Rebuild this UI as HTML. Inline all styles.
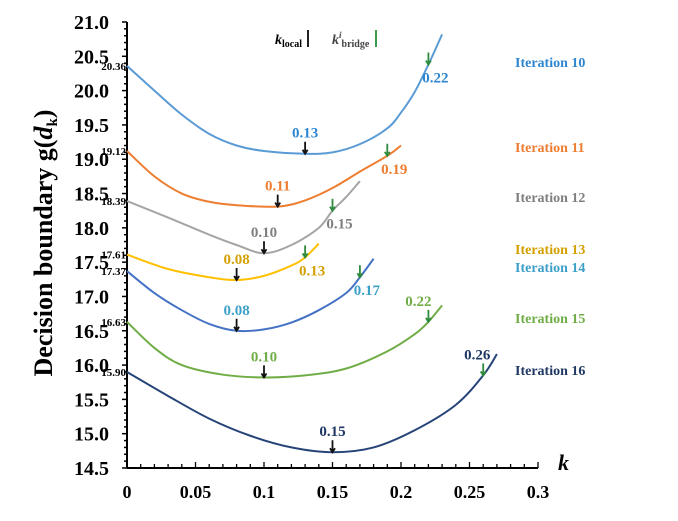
<!DOCTYPE html>
<html><head><meta charset="utf-8"><style>
body{margin:0;background:#fff;}
svg{display:block;font-family:"Liberation Serif",serif;}
</style></head><body>
<svg id="chart" width="678" height="521" viewBox="0 0 678 521">
<g id="axes"></g>
<g id="series"></g>
<text x="275" y="44" font-size="14" font-weight="bold" font-style="italic">k<tspan font-size="10" font-style="normal" dy="3">local</tspan></text>
<rect x="307" y="30" width="2" height="17" fill="#222"/>
<text x="332" y="44" font-size="14" font-weight="bold" font-style="italic" fill="#444">k<tspan font-size="9" dy="-6">i</tspan><tspan font-size="10" font-style="normal" dy="9">bridge</tspan></text>
<rect x="375" y="30" width="2" height="17" fill="#3a9a4a"/>
<text transform="translate(52,243) rotate(-90)" text-anchor="middle" font-size="26" font-weight="bold">Decision boundary g(<tspan font-style="italic">d</tspan><tspan font-size="15" dy="5">k</tspan><tspan dy="-5">)</tspan></text>
<text x="558" y="470" font-size="22" font-weight="bold" font-style="italic">k</text>
</svg>
<script>
const xTicks=[0,0.05,0.1,0.15,0.2,0.25,0.3];
const xTickLabels=["0","0.05","0.1","0.15","0.2","0.25","0.3"];
const yTicks=[14.5,15.0,15.5,16.0,16.5,17.0,17.5,18.0,18.5,19.0,19.5,20.0,20.5,21.0];
const yTickLabels=["14.5","15.0","15.5","16.0","16.5","17.0","17.5","18.0","18.5","19.0","19.5","20.0","20.5","21.0"];
const seriesNames=["Iteration 10","Iteration 11","Iteration 12","Iteration 13","Iteration 14","Iteration 15","Iteration 16"];
const seriesK=[
[0,0.02,0.04,0.06,0.08,0.1,0.13,0.15,0.17,0.19,0.2,0.21,0.22,0.23],
[0,0.02,0.04,0.06,0.08,0.11,0.13,0.15,0.17,0.19,0.2],
[0,0.03,0.06,0.08,0.1,0.12,0.14,0.15,0.16,0.17],
[0,0.03,0.06,0.08,0.1,0.12,0.13,0.14],
[0,0.02,0.04,0.06,0.08,0.1,0.12,0.14,0.16,0.17,0.18],
[0,0.02,0.04,0.07,0.1,0.13,0.16,0.19,0.21,0.22,0.23],
[0,0.03,0.06,0.09,0.12,0.15,0.18,0.21,0.24,0.26,0.27]];
const seriesG=[
[20.36,20.0,19.65,19.37,19.2,19.12,19.08,19.1,19.22,19.45,19.68,19.98,20.38,20.82],
[19.12,18.75,18.5,18.38,18.33,18.31,18.4,18.58,18.82,19.05,19.2],
[18.39,18.15,17.9,17.75,17.63,17.75,18.0,18.25,18.45,18.68],
[17.61,17.4,17.28,17.24,17.3,17.45,17.57,17.77],
[17.37,17.05,16.8,16.6,16.5,16.52,16.62,16.8,17.05,17.28,17.55],
[16.63,16.25,16.0,15.86,15.82,15.85,15.95,16.2,16.45,16.63,16.87],
[15.90,15.55,15.22,14.97,14.8,14.73,14.8,15.05,15.42,15.85,16.16]];
const startLabels=["20.36","19.12","18.39","17.61","17.37","16.63","15.90"];
const kLocal=[0.13,0.11,0.10,0.08,0.08,0.10,0.15];
const kBridge=[0.22,0.19,0.15,0.13,0.17,0.22,0.26];
const colors=["#5B9BD5","#ED7D31","#A5A5A5","#FFC000","#4472C4","#70AD47","#264478"];
const textColors=["#2E86D0","#ED7D31","#7F7F7F","#D4A000","#3CA0C8","#70AD47","#1F3864"];
const legendY=[62,147,197,249,267,318,370];
const NS="http://www.w3.org/2000/svg";
const X0=127,X1=538,Y0=468,Y1=22;
const xs=k=>X0+(k-0)/(0.3)*(X1-X0);
const ys=g=>Y0-(g-14.5)/(6.5)*(Y0-Y1);
function mk(tag,attrs,parent){const e=document.createElementNS(NS,tag);for(const a in attrs)e.setAttribute(a,attrs[a]);parent.appendChild(e);return e;}
const axes=document.getElementById('axes');
let e=mk('line',{x1:X0,y1:Y1,x2:X0,y2:Y0,stroke:'#000','stroke-width':2},axes);


e=mk('line',{x1:X0,y1:Y0,x2:X1,y2:Y0,stroke:'#000','stroke-width':2},axes);


for(let v=14.5;v<=21.0001;v+=0.1){const y=ys(v);const major=Math.abs((v*2)-Math.round(v*2))<0.01;mk('line',{x1:X0-(major?5:3),y1:y,x2:X0,y2:y,stroke:'#000','stroke-width':1.5},axes);}
for(let v=0;v<=0.3001;v+=0.01){const x=xs(v);const major=Math.abs(v*20-Math.round(v*20))<0.01;mk('line',{x1:x,y1:Y0,x2:x,y2:Y0-(major?6:4),stroke:'#000','stroke-width':1.3},axes);}
yTicks.forEach((v,i)=>{const t=mk('text',{x:X0-18,y:ys(v)+7,'text-anchor':'end','font-size':20,'font-weight':'bold'},axes);t.textContent=yTickLabels[i];

});
xTicks.forEach((v,i)=>{const t=mk('text',{x:xs(v),y:Y0+30,'text-anchor':'middle','font-size':18,'font-weight':'bold'},axes);t.textContent=xTickLabels[i];

});
const sg=document.getElementById('series');
function interp(ks,gs,k){for(let i=0;i<ks.length-1;i++){if(k>=ks[i]&&k<=ks[i+1]){const t=(k-ks[i])/(ks[i+1]-ks[i]);return gs[i]+t*(gs[i+1]-gs[i]);}}return gs[gs.length-1];}
function pathD(pts){let d=`M${pts[0][0]},${pts[0][1]}`;for(let i=0;i<pts.length-1;i++){const p0=pts[i-1]||pts[i],p1=pts[i],p2=pts[i+1],p3=pts[i+2]||p2;const c1=[p1[0]+(p2[0]-p0[0])/6,p1[1]+(p2[1]-p0[1])/6],c2=[p2[0]-(p3[0]-p1[0])/6,p2[1]-(p3[1]-p1[1])/6];d+=` C${c1[0]},${c1[1]} ${c2[0]},${c2[1]} ${p2[0]},${p2[1]}`;}return d;}
seriesNames.forEach((name,i)=>{
const pts=seriesK[i].map((k,j)=>[xs(k),ys(seriesG[i][j])]);
const p=mk('path',{d:pathD(pts),fill:'none',stroke:colors[i],'stroke-width':2},sg);


const sl=mk('text',{x:X0-1,y:ys(seriesG[i][0])+4,'text-anchor':'end','font-size':11,'font-weight':'bold'},sg);sl.textContent=startLabels[i];


const lx=xs(kLocal[i]),ly=ys(interp(seriesK[i],seriesG[i],kLocal[i]));
const lm=mk('path',{d:`M${lx},${ly-12}L${lx},${ly} M${lx-2.5},${ly-4}L${lx},${ly}L${lx+2.5},${ly-4}`,stroke:'#111','stroke-width':1.8,fill:'none'},sg);


const lt=mk('text',{x:lx,y:ly-16,'text-anchor':'middle','font-size':15,'font-weight':'bold',fill:textColors[i]},sg);lt.textContent=kLocal[i].toFixed(2);


const bx=xs(kBridge[i]),by=ys(interp(seriesK[i],seriesG[i],kBridge[i]));
const bm=mk('path',{d:`M${bx},${by-12}L${bx},${by} M${bx-2.5},${by-4}L${bx},${by}L${bx+2.5},${by-4}`,stroke:'#2e8b3e','stroke-width':1.8,fill:'none'},sg);


const bt=mk('text',{x:bx+7,y:by+18,'text-anchor':'middle','font-size':15,'font-weight':'bold',fill:textColors[i]},sg);bt.textContent=kBridge[i].toFixed(2);
if(i===6){bt.setAttribute('x',bx-6);bt.setAttribute('y',by-16);}
if(i===5){bt.setAttribute('x',bx-10);bt.setAttribute('y',by-16);}


const lg=mk('text',{x:515,y:legendY[i]+5,'font-size':14,'font-weight':'bold',fill:textColors[i]},sg);lg.textContent=name;


});
</script>
</body></html>
